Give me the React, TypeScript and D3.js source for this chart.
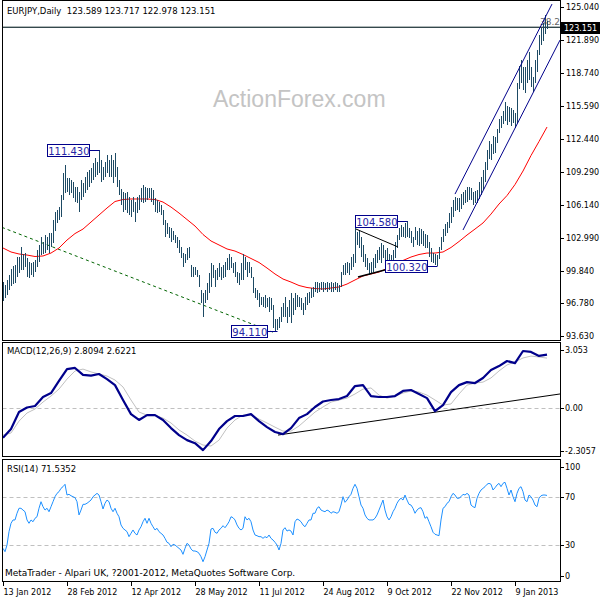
import React from 'react';
import * as d3 from 'd3';

// daily bars, EURJPY 13 Jan 2012 .. 25 Jan 2013
const barLows = [
  97.0, 97.3, 97.5, 98.0, 98.4, 98.6, 98.7, 99.3, 99.6, 99.9,
  99.9, 100.2, 99.3, 99.2, 99.5, 99.3, 99.7, 100.2, 100.7, 101.4,
  101.5, 101.6, 101.8, 101.6, 102.1, 102.5, 103.7, 104.4, 104.7, 105.0,
  106.6, 107.3, 107.4, 107.1, 107.3, 106.8, 106.4, 106.3, 105.5, 106.6,
  106.9, 107.3, 107.6, 107.9, 108.2, 108.5, 108.8, 109.0, 109.2, 108.3,
  108.5, 108.8, 109.2, 108.8, 108.8, 108.2, 108.8, 107.9, 107.1, 106.1,
  105.5, 105.7, 105.4, 105.2, 105.0, 105.5, 104.5, 105.4, 105.7, 106.4,
  106.3, 106.4, 106.6, 106.8, 106.4, 106.1, 105.5, 105.4, 105.5, 105.2,
  104.2, 103.1, 103.4, 103.0, 102.6, 102.8, 102.5, 102.0, 101.6, 101.1,
  100.2, 100.6, 100.9, 101.1, 99.3, 99.3, 99.5, 99.3, 98.3, 96.8,
  95.4, 96.8, 97.1, 97.7, 98.3, 99.2, 98.3, 99.0, 99.3, 99.0,
  99.2, 99.3, 99.9, 99.9, 100.1, 99.6, 99.3, 98.7, 98.5, 99.0,
  99.0, 99.9, 99.3, 99.6, 99.2, 97.7, 97.3, 97.1, 96.4, 96.6,
  96.4, 96.3, 96.4, 95.9, 96.1, 94.4, 94.11, 94.2, 94.4, 95.0,
  95.4, 95.4, 94.9, 95.4, 94.9, 95.6, 96.1, 96.4, 96.4, 96.1,
  95.6, 96.1, 96.6, 96.8, 97.3, 97.4, 97.8, 97.7, 97.8, 98.0,
  97.8, 98.0, 97.8, 98.0, 97.8, 97.8, 98.0, 97.8, 97.8, 98.3,
  99.5, 99.5, 99.6, 99.5, 99.9, 100.2, 100.6, 102.3, 102.0, 101.2,
  100.7, 100.2, 99.9, 99.5, 99.6, 99.7, 100.1, 100.6, 100.9, 100.6,
  101.1, 100.2, 100.7, 100.1, 100.1, 100.6, 101.1, 102.0, 102.8, 103.1,
  103.1, 103.0, 103.1, 103.0, 102.5, 102.1, 102.8, 102.3,
  102.2, 102.4, 102.2, 102.0, 102.0, 101.2, 100.7, 100.6, 100.45, 100.32,
  101.0, 101.8, 102.6, 103.2, 103.5, 103.9, 104.4, 105.0, 105.6, 105.7,
  105.5, 105.8, 106.1, 106.3, 106.4, 106.6, 106.6, 106.1, 106.3, 106.3,
  106.7, 107.1, 107.6, 108.3, 109.5, 110.5, 110.4, 111.0, 111.1, 112.1,
  113.0, 113.5, 113.9, 114.2, 113.8, 114.1, 113.7, 114.0, 113.5, 114.0,
  117.2, 117.8, 117.1, 116.8, 117.8, 118.1, 117.4, 116.9, 117.8, 118.8,
  120.5, 121.4, 121.8, 122.5, 122.978,
];

const barHighs = [
  98.8, 98.5, 99.0, 99.5, 100.0, 100.3, 100.4, 101.2, 101.2, 102.1,
  101.5, 101.6, 101.1, 100.7, 100.6, 100.7, 100.9, 101.8, 102.3, 103.1,
  102.6, 103.3, 103.1, 103.5, 103.5, 104.7, 105.5, 105.7, 105.9, 107.1,
  109.2, 110.0, 108.7, 108.7, 108.5, 108.3, 107.9, 107.9, 107.4, 108.5,
  108.2, 108.8, 109.3, 109.5, 109.7, 110.1, 110.6, 110.2, 111.43, 110.4,
  109.8, 110.2, 110.9, 110.4, 110.9, 110.4, 111.1, 109.8, 108.5, 107.7,
  107.4, 107.3, 107.4, 106.9, 106.6, 106.9, 106.4, 106.9, 107.1, 107.8,
  108.0, 107.9, 107.8, 107.8, 107.8, 107.6, 106.8, 106.6, 106.4, 106.1,
  105.7, 104.7, 104.4, 104.0, 103.9, 103.7, 103.3, 103.1, 102.8, 102.1,
  101.6, 101.5, 102.0, 102.1, 100.4, 100.2, 100.2, 99.9, 99.5, 98.0,
  97.7, 98.0, 98.7, 99.6, 100.6, 100.4, 99.9, 100.1, 100.6, 100.2,
  100.4, 100.7, 101.1, 101.5, 101.2, 100.6, 100.7, 99.7, 99.6, 100.6,
  101.5, 101.2, 100.7, 100.7, 100.2, 99.3, 98.2, 98.0, 97.7, 97.4,
  97.4, 97.5, 97.3, 97.4, 97.3, 96.6, 95.3, 95.3, 95.4, 96.4,
  96.8, 97.4, 96.4, 97.1, 97.7, 97.3, 97.7, 97.5, 97.4, 97.3,
  96.8, 97.4, 97.7, 97.8, 98.2, 98.3, 98.8, 98.8, 98.7, 98.8,
  98.8, 98.7, 98.8, 98.7, 98.8, 98.7, 98.8, 98.7, 98.5, 99.7,
  100.4, 100.6, 100.7, 100.6, 101.2, 101.5, 104.0, 103.6, 103.7, 103.1,
  102.3, 101.5, 101.1, 100.6, 100.7, 101.1, 101.5, 101.8, 102.1, 102.5,
  102.3, 101.8, 102.0, 101.5, 101.4, 101.8, 102.6, 103.3, 103.9, 104.2,
  104.0, 104.4, 104.58, 103.9, 103.7, 103.1, 104.0, 103.7,
  103.9, 103.8, 103.7, 103.4, 103.3, 102.6, 102.0, 101.6, 101.5, 101.4,
  102.1, 103.1, 103.8, 104.3, 104.5, 105.4, 105.9, 106.6, 106.9, 106.8,
  106.8, 107.2, 107.4, 107.6, 107.9, 107.9, 107.8, 107.4, 107.5, 107.6,
  108.3, 108.8, 109.5, 110.2, 111.4, 112.2, 112.0, 112.7, 112.6, 113.4,
  114.3, 114.6, 115.1, 116.0, 115.6, 115.5, 115.4, 115.2, 114.9, 117.8,
  119.4, 120.0, 119.3, 119.3, 120.0, 120.7, 119.3, 118.4, 120.0, 120.9,
  122.4, 123.0, 123.5, 124.3, 123.717,
];

// indicator readings, one value every 4th bar
const maValues = [
  102.03, 101.65, 101.46, 101.36, 101.22, 101.27, 101.55, 102.03, 102.79, 103.41,
  103.84, 104.51, 105.18, 105.85, 106.47, 106.66, 106.71, 106.71, 106.71, 106.66,
  106.42, 105.94, 105.37, 104.75, 104.13, 103.32, 102.70, 102.32, 101.94, 101.74,
  101.41, 101.03, 100.65, 100.12, 99.55, 99.07, 98.78, 98.45, 98.26, 98.16,
  98.12, 98.21, 98.31, 98.59, 98.98, 99.36, 99.55, 99.74, 100.07, 100.45,
  100.84, 101.17, 101.41, 101.55, 101.55, 101.65, 102.08, 102.65, 103.27, 103.84,
  104.42, 105.27, 106.23, 107.04, 108.09, 109.38, 110.86, 112.20, 113.58,
];

const macdValues = [
  -1.60, -1.14, -0.24, 0.00, 0.08, 0.56, 0.77, 1.41, 2.04, 2.10,
  1.73, 1.69, 1.78, 1.51, 1.19, 0.40, -0.35, -0.66, -0.40, -0.40,
  -0.66, -1.09, -1.46, -1.73, -1.89, -2.26, -1.78, -1.14, -0.72, -0.45,
  -0.45, -0.35, -0.72, -1.04, -1.30, -1.41, -1.09, -0.56, -0.35, 0.03,
  0.32, 0.40, 0.45, 0.61, 1.14, 1.19, 0.61, 0.56, 0.56, 0.61,
  0.88, 0.93, 0.72, 0.50, -0.19, 0.13, 0.82, 1.19, 1.35, 1.30,
  1.57, 1.99, 2.20, 2.47, 2.36, 3.00, 2.95, 2.74, 2.8094,
];

const signalValues = [
  -1.46, -1.35, -0.72, -0.29, -0.08, 0.29, 0.61, 0.98, 1.51, 1.94,
  2.04, 1.89, 1.78, 1.67, 1.46, 1.09, 0.40, -0.24, -0.40, -0.40,
  -0.56, -0.82, -1.19, -1.46, -1.78, -1.99, -2.04, -1.73, -1.09, -0.66,
  -0.40, -0.40, -0.61, -0.82, -1.04, -1.25, -1.25, -0.98, -0.61, -0.24,
  0.03, 0.29, 0.40, 0.50, 0.72, 0.98, 1.04, 0.66, 0.50, 0.61,
  0.77, 0.88, 0.82, 0.66, 0.40, 0.13, 0.19, 0.72, 1.19, 1.30,
  1.35, 1.57, 1.94, 2.26, 2.42, 2.63, 2.73, 2.68, 2.6221,
];

// RSI(14), one value per bar
const rsiValues = [
  27.2, 24.4, 30.0, 41.2, 48.2, 51.0, 51.0, 56.6, 60.8, 60.8,
  59.3, 57.9, 51.0, 48.2, 51.0, 49.5, 52.4, 53.7, 60.8, 66.3,
  62.1, 59.3, 60.8, 57.9, 62.1, 66.3, 70.5, 73.3, 74.7, 77.5,
  78.9, 80.9, 71.9, 72.5, 71.3, 70.5, 69.7, 66.3, 55.2, 59.3,
  64.1, 64.1, 65.0, 66.3, 67.7, 70.5, 71.9, 73.3, 71.9, 66.3,
  60.2, 65.0, 67.7, 66.3, 60.8, 57.9, 60.8, 56.6, 53.7, 46.8,
  44.0, 42.6, 41.2, 37.0, 39.8, 42.6, 39.8, 38.4, 42.6, 45.3,
  49.5, 52.4, 48.2, 52.4, 48.2, 45.3, 42.6, 44.0, 41.2, 39.8,
  38.4, 35.6, 32.3, 31.4, 28.6, 30.6, 30.0, 28.6, 27.2, 25.8,
  22.2, 27.2, 31.4, 30.0, 26.7, 25.0, 25.0, 24.4, 23.1, 20.2,
  16.0, 20.2, 25.8, 31.4, 43.4, 44.0, 40.7, 39.8, 42.6, 44.0,
  46.2, 44.5, 46.8, 49.5, 53.7, 52.9, 51.0, 46.8, 44.0, 42.6,
  44.0, 53.7, 51.0, 52.4, 49.5, 42.6, 38.4, 37.8, 37.0, 37.0,
  35.6, 37.0, 36.1, 38.4, 35.6, 34.2, 32.3, 30.0, 25.8, 31.4,
  42.6, 44.5, 41.7, 42.6, 41.7, 38.4, 49.5, 51.8, 51.0, 49.5,
  46.8, 45.3, 48.2, 51.0, 51.0, 56.6, 56.6, 60.8, 62.1, 59.3,
  58.5, 57.9, 59.3, 58.5, 56.6, 57.9, 57.4, 56.6, 57.9, 63.5,
  70.5, 65.8, 67.7, 70.5, 72.5, 77.5, 80.9, 77.5, 70.5, 63.5,
  60.8, 55.2, 52.4, 51.0, 51.0, 51.0, 52.4, 55.2, 59.3, 63.5,
  67.7, 59.3, 53.7, 51.0, 53.7, 57.9, 60.8, 65.0, 67.7, 69.2,
  67.7, 71.9, 67.7, 64.1, 63.5, 60.8, 56.6, 59.3, 60.8, 61.3,
  57.9, 52.4, 53.7, 49.5, 45.3, 40.7, 39.0, 38.4, 37.8, 51.0,
  60.8, 62.1, 65.0, 66.3, 70.5, 73.3, 71.9, 69.2, 69.2, 70.5,
  72.5, 71.9, 73.3, 71.9, 63.5, 62.1, 61.3, 69.2, 73.3, 76.1,
  77.5, 78.9, 80.9, 81.7, 80.9, 76.1, 78.0, 80.3, 81.7, 78.9,
  81.7, 82.6, 77.5, 71.9, 76.1, 70.5, 66.3, 73.3, 77.5, 78.9,
  74.7, 67.7, 66.3, 71.9, 70.5, 67.7, 63.5, 62.1, 69.2, 71.3,
  71.9, 71.9, 71.5352,
];

const priceTicks = [125.04, 121.89, 118.74, 115.59, 112.44, 109.29, 106.14, 102.99, 99.84, 96.78, 93.63];
const macdTicks = [3.053, 0, -2.3057];
const macdTickLabels = ['3.053', '0.00', '-2.3057'];
const rsiTicks = [100, 70, 30, 0];
const rsiLevels = [70, 30];
const dateBars = [0, 32, 64, 96, 128, 160, 192, 224, 256];
const dateLabels = ['13 Jan 2012', '28 Feb 2012', '12 Apr 2012', '28 May 2012', '11 Jul 2012',
  '24 Aug 2012', '9 Oct 2012', '22 Nov 2012', '9 Jan 2013'];

const lastPrice = 123.151;
const priceLabels = [
  { text: '111.430', bar: 48, price: 111.43 },
  { text: '94.110', bar: 137, price: 94.11 },
  { text: '104.580', bar: 202, price: 104.58 },
  { text: '100.320', bar: 217, price: 100.32 },
];

// drawn trend lines: [bar, value] pairs
const greenTrend = [[-0.5, 104.0], [135, 94.0]];
const channelUpper = [[226, 107.18], [274.5, 125.32]];
const channelLower = [[230, 103.75], [278.5, 121.88]];
const triangleUpper = [[176.5, 103.84], [197.5, 102.13]];
const triangleLower = [[177.5, 99.26], [198.5, 100.31]];
const macdTrend = [[137.5, -1.46], [278.5, 0.72]];

const FONT = 'DejaVu Sans';
const L = 2.5, R = 560.5;
const main = { top: 0.5, bottom: 340.5 };
const macdP = { top: 342.5, bottom: 456.5 };
const rsiP = { top: 459.5, bottom: 581.5 };

export default function App() {
  const x = d3.scaleLinear().domain([0, 278.5]).range([3, 560]);
  const y = d3.scaleLinear().domain([93.63, 125.04]).range([336, 7]);
  const ym = d3.scaleLinear().domain([-2.3057, 3.053]).range([451, 350]);
  const yr = d3.scaleLinear().domain([0, 100]).range([580.8, 461.5]);

  const sampled = (sc: d3.ScaleLinear<number, number>) =>
    d3.line<number>().x((_, k) => x(k * 4)).y(v => sc(v));
  const rsiStep = 272 / (rsiValues.length - 1);
  const rsiLine = d3.line<number>().x((_, i) => x(i * rsiStep)).y(v => yr(v));
  const seg = (pts: number[][], sc: d3.ScaleLinear<number, number>) =>
    d3.line<number[]>().x(p => x(p[0])).y(p => sc(p[1]))(pts) || '';

  const crisp = (v: number) => Math.round(v) + 0.5;
  const lastY = crisp(y(lastPrice));

  return (
    <svg width={600} height={600} style={{ position: 'absolute', left: 0, top: 0, background: '#fff' }}
      fontFamily={FONT}>
      <defs>
        <clipPath id="clipMain"><rect x={L} y={main.top} width={R - L} height={main.bottom - main.top} /></clipPath>
        <clipPath id="clipMacd"><rect x={L} y={macdP.top} width={R - L} height={macdP.bottom - macdP.top} /></clipPath>
        <clipPath id="clipRsi"><rect x={L} y={rsiP.top} width={R - L} height={rsiP.bottom - rsiP.top} /></clipPath>
      </defs>
      <rect width={600} height={600} fill="#fff" />

      {/* ---------- main price panel ---------- */}
      <text x={213} y={107} fontFamily="Liberation Sans, Arial" fontSize={23} fill="#c4c4c4">ActionForex.com</text>
      <text x={7} y={14} fontSize={8.5} fill="#000" style={{ whiteSpace: 'pre' }}>
        {'EURJPY,Daily  123.589 123.717 122.978 123.151'}
      </text>

      <g clipPath="url(#clipMain)">
        <line x1={L} x2={R} y1={lastY - 1} y2={lastY - 1} stroke="#b0b8b8" />
        <line x1={L} x2={R} y1={lastY} y2={lastY} stroke="#34484c" />
        <text x={540} y={25} fontSize={9} fill="#666">38.2</text>
        <path d={seg(greenTrend, y)} stroke="#006400" strokeWidth={1} strokeDasharray="3 3" fill="none" />
        <path d={sampled(y)(maValues) || ''} stroke="#ff0000" strokeWidth={1} fill="none" />
        <g shapeRendering="crispEdges">
          {barLows.map((lo, i) => (
            <line key={i} x1={crisp(x(i))} x2={crisp(x(i))} y1={y(barHighs[i])} y2={y(lo)}
              stroke="#1d4a64" strokeWidth={1} />
          ))}
        </g>
        <path d={seg(channelUpper, y)} stroke="#00008b" strokeWidth={1} fill="none" />
        <path d={seg(channelLower, y)} stroke="#00008b" strokeWidth={1} fill="none" />
        <path d={seg(triangleUpper, y)} stroke="#000" strokeWidth={1} fill="none" />
        <path d={seg(triangleLower, y)} stroke="#000" strokeWidth={1.5} fill="none" />
        {priceLabels.map(l => {
          const ax = crisp(x(l.bar));
          const ay = crisp(y(l.price));
          const w = l.text.length * 5.9 + 1;
          const bx = ax - 10 - w;
          return (
            <g key={l.text}>
              <line x1={bx + w} x2={ax} y1={ay} y2={ay} stroke="#00008b" />
              <rect x={Math.round(bx) + 0.5} y={ay - 6} width={Math.round(w)} height={12}
                fill="#fff" stroke="#00008b" shapeRendering="crispEdges" />
              <text x={bx + w / 2 + 0.5} y={ay + 4} fontSize={10} textAnchor="middle" fill="#2626a6">{l.text}</text>
            </g>
          );
        })}
      </g>

      {/* ---------- MACD panel ---------- */}
      <text x={7} y={354} fontSize={8.5} fill="#000">MACD(12,26,9) 2.8094 2.6221</text>
      <g clipPath="url(#clipMacd)">
        <line x1={L} x2={R} y1={crisp(ym(0))} y2={crisp(ym(0))} stroke="#c0c0c0" strokeDasharray="4 3" />
        <path d={sampled(ym)(signalValues) || ''} stroke="#c0c0c0" strokeWidth={1} fill="none" />
        <path d={seg(macdTrend, ym)} stroke="#000" strokeWidth={1} fill="none" />
        <path d={sampled(ym)(macdValues) || ''} stroke="#00008b" strokeWidth={2.2} fill="none" strokeLinejoin="round" />
      </g>

      {/* ---------- RSI panel ---------- */}
      <text x={7} y={472} fontSize={8.5} fill="#000">RSI(14) 71.5352</text>
      <g clipPath="url(#clipRsi)">
        {rsiLevels.map(v => (
          <line key={v} x1={L} x2={R} y1={crisp(yr(v))} y2={crisp(yr(v))} stroke="#c0c0c0" strokeDasharray="4 3" />
        ))}
        <path d={rsiLine(rsiValues) || ''} stroke="#1e90ff" strokeWidth={1} fill="none" />
      </g>
      <text x={5} y={576} fontSize={9} fill="#000">MetaTrader - Alpari UK, ?2001-2012, MetaQuotes Software Corp.</text>

      {/* ---------- frames ---------- */}
      <g fill="none" stroke="#000" shapeRendering="crispEdges">
        {[main, macdP, rsiP].map((p, k) => (
          <rect key={k} x={L} y={p.top} width={R - L} height={p.bottom - p.top} />
        ))}
      </g>

      {/* ---------- right axes ---------- */}
      <g fontSize={8} fill="#000" shapeRendering="crispEdges">
        {priceTicks.map(v => (
          <g key={v}>
            <line x1={R} x2={R + 3} y1={crisp(y(v))} y2={crisp(y(v))} stroke="#000" />
            <text x={566} y={y(v) + 3}>{v.toFixed(3)}</text>
          </g>
        ))}
        <rect x={561} y={lastY - 6} width={39} height={12} fill="#000" />
        <text x={564} y={lastY + 3.5} fill="#fff">{lastPrice.toFixed(3)}</text>
        {macdTicks.map((v, k) => (
          <g key={v}>
            <line x1={R} x2={R + 3} y1={crisp(ym(v))} y2={crisp(ym(v))} stroke="#000" />
            <text x={565} y={ym(v) + 3}>{macdTickLabels[k]}</text>
          </g>
        ))}
        {rsiTicks.map(v => {
          const ty = Math.min(Math.max(yr(v), rsiP.top + 7.5), rsiP.bottom - 5.5);
          return (
            <g key={v}>
              <line x1={R} x2={R + 3} y1={crisp(ty)} y2={crisp(ty)} stroke="#000" />
              <text x={565} y={ty + 3}>{v}</text>
            </g>
          );
        })}
      </g>

      {/* ---------- date axis ---------- */}
      <g fontSize={8} fill="#000" shapeRendering="crispEdges">
        {dateBars.map((b, k) => (
          <g key={b}>
            <line x1={crisp(x(b))} x2={crisp(x(b))} y1={rsiP.bottom} y2={rsiP.bottom + 4} stroke="#000" />
            <text x={crisp(x(b))} y={595}>{dateLabels[k]}</text>
          </g>
        ))}
      </g>
    </svg>
  );
}
